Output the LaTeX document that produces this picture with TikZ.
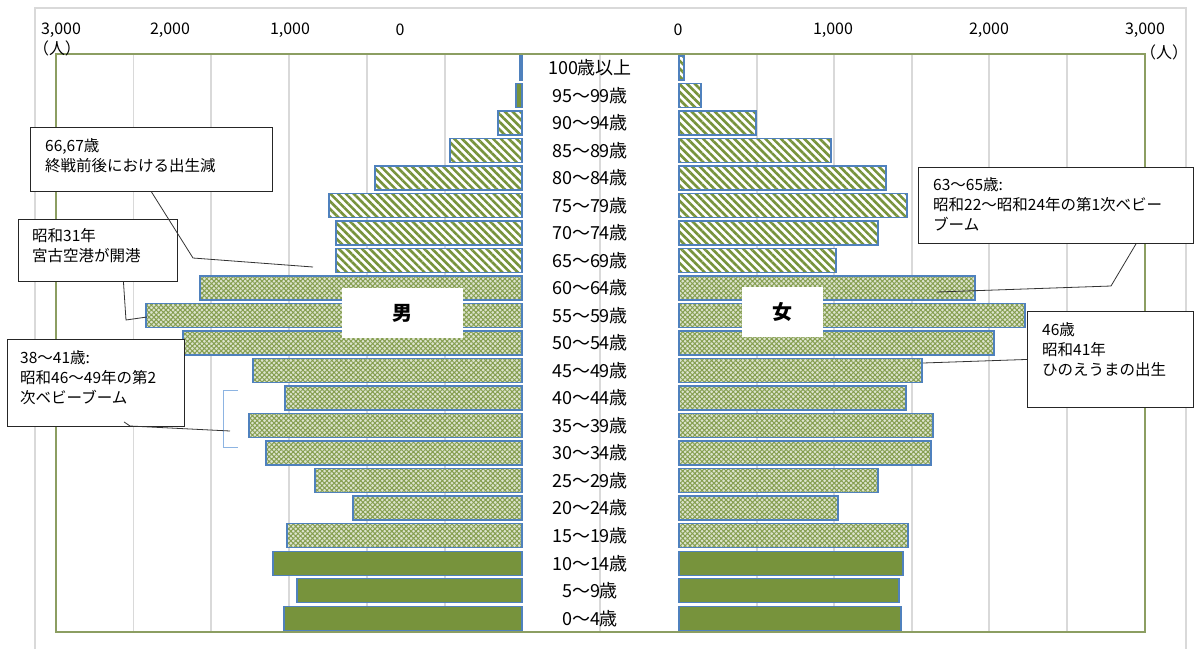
\documentclass[tikz,border=0pt]{standalone}
\usepackage{fontspec}
\setmainfont{Noto Sans CJK JP}
\usetikzlibrary{patterns.meta}

\definecolor{barolive}{HTML}{77933C}
\definecolor{barblue}{HTML}{4F81BD}
\definecolor{gridgray}{HTML}{D9D9D9}
\definecolor{plotolive}{HTML}{8C9E62}
\definecolor{brackblue}{HTML}{8DB4E2}

\tikzset{
  solidbar/.style={draw=barblue, line width=1.2pt, fill=barolive},
  stripebar/.style={draw=barblue, line width=1.6pt, preaction={fill=white},
    pattern={Lines[angle=-45,distance=5.5pt,line width=2.6pt]}, pattern color=barolive},
  meshbar/.style={draw=barblue, line width=1.6pt, preaction={fill=barolive!25},
    pattern={Hatch[angle=45,distance=3.4pt,line width=1pt]}, pattern color=barolive!90},
  agelabel/.style={inner sep=0pt, font=\fontsize{18}{18}\selectfont},
  axlabel/.style={inner sep=0pt, font=\fontsize{16}{16}\selectfont},
  callbox/.style={draw=black!85, line width=0.9pt, fill=white, anchor=north west, inner sep=0pt},
  calltext/.style={anchor=north west, align=left, inner sep=0pt, font=\fontsize{15.5}{20}\selectfont},
  sexbox/.style={fill=white, inner sep=0pt, font=\fontsize{20}{20}\selectfont\bfseries},
  leader/.style={draw=black!80, line width=0.8pt},
}

\begin{document}
\begin{tikzpicture}[x=1pt, y=-1pt]
  \useasboundingbox (0,0) rectangle (1195,649);

  % frame and grid
  \draw[gridgray, line width=1.5pt] (35,649) -- (35,8) -- (1186,8) -- (1186,649);
  \foreach \gx in {133.5,211,289,367,445,600,757,834,912,989,1067}
    \draw[gridgray, line width=1.5pt] (\gx,54) -- (\gx,632);
  \draw[plotolive, line width=1.5pt] (56,54) rectangle (1145,632);

  % axis labels
  \node[axlabel] (xl3) at (61,30) {3,000};
  \node[axlabel] (xl2) at (170,30) {2,000};
  \node[axlabel] (xl1) at (290,30) {1,000};
  \node[axlabel] (xl0) at (400,30) {0};
  \node[axlabel] (xr0) at (678,30) {0};
  \node[axlabel] (xr1) at (833,30) {1,000};
  \node[axlabel] (xr2) at (989,30) {2,000};
  \node[axlabel] (xr3) at (1145,30) {3,000};
  \node[axlabel] (unitl) at (57,48) {（人）};
  \node[axlabel] (unitr) at (1164,52) {（人）};

  % 0-14
  \foreach \i/\mw/\fw in {0/238/222, 1/225/220, 2/249/224} {
    \pgfmathsetmacro{\yc}{632-27.52*(\i+0.5)}
    \draw[solidbar] (522,\yc-12) rectangle (522-\mw,\yc+12);
    \draw[solidbar] (679,\yc-12) rectangle (679+\fw,\yc+12);
  }
  % 15-64
  \foreach \i/\mw/\fw in {3/235/229, 4/169/159, 5/207/199, 6/256/252, 7/273/254,
      8/237/227, 9/269/243, 10/339/315, 11/376/346, 12/322/296} {
    \pgfmathsetmacro{\yc}{632-27.52*(\i+0.5)}
    \draw[meshbar] (522,\yc-12) rectangle (522-\mw,\yc+12);
    \draw[meshbar] (679,\yc-12) rectangle (679+\fw,\yc+12);
  }
  % 65+
  \foreach \i/\mw/\fw in {13/186/157, 14/186/199, 15/193/228, 16/147/207,
      17/72/152, 18/24/77, 20/2/5} {
    \pgfmathsetmacro{\yc}{632-27.52*(\i+0.5)}
    \draw[stripebar] (522,\yc-12) rectangle (522-\mw,\yc+12);
    \draw[stripebar] (679,\yc-12) rectangle (679+\fw,\yc+12);
  }
  \pgfmathsetmacro{\yc}{632-27.52*19.5}
  \draw[solidbar] (522,\yc-12) rectangle (516,\yc+12);
  \draw[stripebar] (679,\yc-12) rectangle (701,\yc+12);

  % age classes
  \foreach \t [count=\k from 0] in {0〜4歳,5〜9歳,10〜14歳,15〜19歳,20〜24歳,
      25〜29歳,30〜34歳,35〜39歳,40〜44歳,45〜49歳,50〜54歳,55〜59歳,60〜64歳,
      65〜69歳,70〜74歳,75〜79歳,80〜84歳,85〜89歳,90〜94歳,95〜99歳,100歳以上} {
    \pgfmathsetmacro{\yc}{632-27.52*(\k+0.5)}
    \node[agelabel] (age\k) at (590,\yc) {\t};
  }

  \node[sexbox, minimum width=121pt, minimum height=50pt] (male) at (402.5,313) {男};
  \node[sexbox, minimum width=81pt, minimum height=50pt] (female) at (782.5,312) {女};

  % callouts
  \node[callbox, minimum width=242pt, minimum height=64pt] (war) at (30,127) {};
  \node[calltext] (wartext) at (45,138) {66,67歳\\終戦前後における出生減};
  \node[callbox, minimum width=159pt, minimum height=62pt] (airport) at (18,219) {};
  \node[calltext] (airporttext) at (32,228) {昭和31年\\宮古空港が開港};
  \node[callbox, minimum width=177pt, minimum height=87pt] (boom2) at (7,339) {};
  \node[calltext] (boom2text) at (20,350) {38〜41歳:\\昭和46〜49年の第2\\次ベビーブーム};
  \node[callbox, minimum width=275pt, minimum height=76pt] (boom1) at (918,167) {};
  \node[calltext] (boom1text) at (933,177) {63〜65歳:\\昭和22〜昭和24年の第1次ベビー\\ブーム};
  \node[callbox, minimum width=166pt, minimum height=96pt] (hinoe) at (1027,311) {};
  \node[calltext] (hinoetext) at (1042,322) {46歳\\昭和41年\\ひのえうまの出生};

  \coordinate (m65) at (313,267);
  \coordinate (m55) at (147,317);
  \coordinate (m35) at (230,431);
  \coordinate (f60) at (937,292);
  \coordinate (f45) at (923,363);

  \draw[brackblue, line width=1pt] (238,390) -- (223,390) -- (223,447) -- (238,447);

  \draw[leader] (war.south) -- (193,258) -- (m65);
  \draw[leader] ([xshift=25.5]airport.south) -- (126,320) -- (m55);
  \draw[leader] ([shift={(117,-5)}]boom2.south west) -- (130,426) -- (m35);
  \draw[leader] ([xshift=218]boom1.south west) -- (1111,286) -- (f60);
  \draw[leader] (hinoe.west) -- (f45);
\end{tikzpicture}
\end{document}
